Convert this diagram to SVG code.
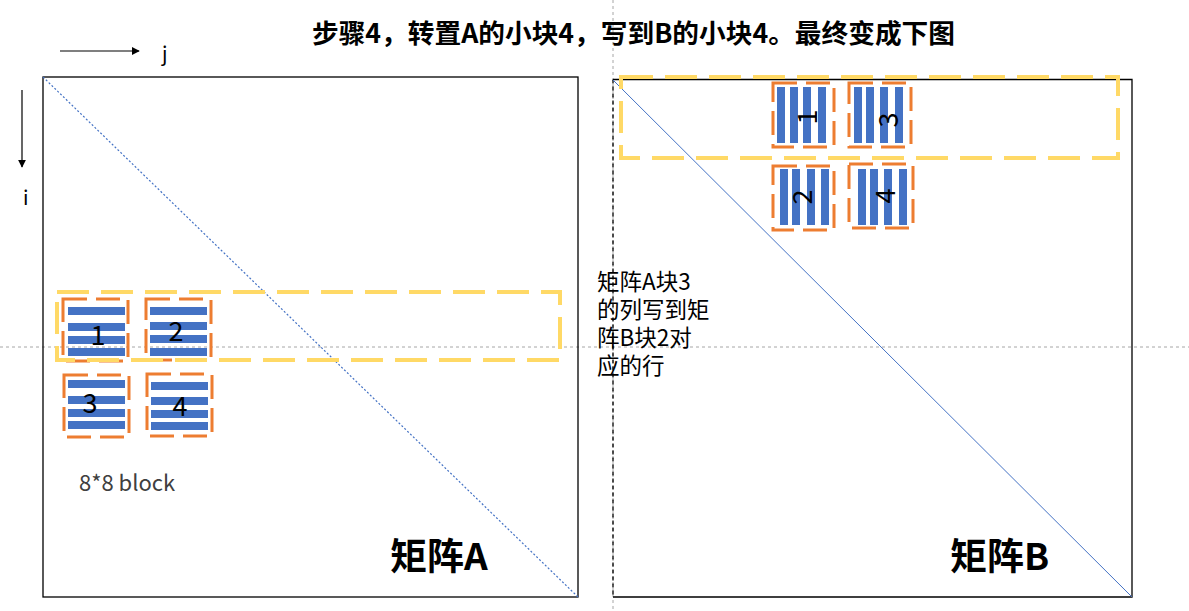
<svg xmlns="http://www.w3.org/2000/svg" width="1189" height="611" viewBox="0 0 1189 611">
<style>
.cjk{font-family:"Noto Sans CJK SC","Liberation Sans",sans-serif;fill:#000}
.frame{fill:none;stroke:#000;stroke-width:1.3}
.guide{fill:none;stroke:#a6a6a6;stroke-width:1;stroke-dasharray:3 3}
.blk{fill:none;stroke:#ED7D31;stroke-width:3;stroke-dasharray:24 9}
.row{fill:none;stroke:#FFD966;stroke-width:4;stroke-dasharray:32 12}
.bar{fill:#4472C4}
.dig{font-family:"Noto Sans CJK SC","Liberation Sans",sans-serif;font-size:27px;fill:#000}
</style>
<defs>
<marker id="ah" viewBox="0 0 10 10" refX="9" refY="5" markerWidth="8" markerHeight="8" markerUnits="userSpaceOnUse" orient="auto">
<path d="M0,0 L10,5 L0,10 z" fill="#000"/>
</marker>
</defs>
<rect width="1189" height="611" fill="#fff"/>

<g id="guides">
<line class="guide" x1="0" y1="347" x2="1189" y2="347"/>
<line class="guide" x1="613" y1="0" x2="613" y2="611"/>
</g>

<text id="title" class="cjk" x="312" y="43" font-size="26.7" font-weight="bold">步骤4，转置A的小块4，写到B的小块4。最终变成下图</text>

<g id="axes">
<line x1="60" y1="51" x2="139" y2="51" stroke="#000" stroke-width="1.2" marker-end="url(#ah)"/>
<text class="cjk" x="162" y="61" font-size="20">j</text>
<line x1="22" y1="90" x2="22" y2="167" stroke="#000" stroke-width="1.2" marker-end="url(#ah)"/>
<text class="cjk" x="23" y="205" font-size="20">i</text>
</g>

<g id="matrixA">
<rect class="frame" x="43" y="77" width="535" height="520"/>
<line x1="43" y1="77" x2="578" y2="597" stroke="#4472C4" stroke-width="1.2" stroke-dasharray="2 2"/>
<text class="cjk" x="390" y="570" font-size="37" font-weight="bold">矩阵A</text>
</g>

<g id="matrixB">
<path class="frame" d="M613,79.5 H1132 V597 H613"/>
<line x1="613" y1="79.5" x2="613" y2="597" stroke="#000" stroke-width="1.3" stroke-dasharray="4 3"/>
<line x1="613" y1="80" x2="1132" y2="597" stroke="#4472C4" stroke-width="1"/>
<text class="cjk" x="950" y="570" font-size="37" font-weight="bold">矩阵B</text>
</g>

<g id="A-block1">
<rect class="bar" x="68" y="307" width="57" height="8"/>
<rect class="bar" x="68" y="323" width="57" height="8"/>
<rect class="bar" x="68" y="336" width="57" height="8"/>
<rect class="bar" x="68" y="348" width="57" height="8"/>
<rect class="blk" x="63" y="299" width="65" height="62"/>
<text class="dig" x="98" y="345" text-anchor="middle">1</text>
</g>
<g id="A-block2">
<rect class="bar" x="150" y="307" width="57" height="8"/>
<rect class="bar" x="150" y="322" width="57" height="8"/>
<rect class="bar" x="150" y="335" width="57" height="8"/>
<rect class="bar" x="150" y="348" width="57" height="8"/>
<rect class="blk" x="146" y="299" width="65" height="61"/>
<text class="dig" x="176" y="341" text-anchor="middle">2</text>
</g>
<g id="A-block3">
<rect class="bar" x="68" y="380" width="57" height="8"/>
<rect class="bar" x="68" y="396" width="57" height="8"/>
<rect class="bar" x="68" y="409" width="57" height="8"/>
<rect class="bar" x="68" y="421" width="57" height="8"/>
<rect class="blk" x="64" y="375" width="65" height="62"/>
<text class="dig" x="90" y="413" text-anchor="middle">3</text>
</g>
<g id="A-block4">
<rect class="bar" x="151" y="382" width="57" height="8"/>
<rect class="bar" x="151" y="397" width="57" height="8"/>
<rect class="bar" x="151" y="410" width="57" height="8"/>
<rect class="bar" x="151" y="422" width="57" height="8"/>
<rect class="blk" x="147" y="374" width="65" height="62"/>
<text class="dig" x="180" y="416" text-anchor="middle">4</text>
</g>
<g id="A-row">
<rect class="row" x="57" y="292" width="503" height="68"/>
</g>

<g id="B-block1">
<rect class="bar" x="777" y="87" width="8" height="56"/>
<rect class="bar" x="790" y="87" width="8" height="56"/>
<rect class="bar" x="803" y="87" width="8" height="56"/>
<rect class="bar" x="818" y="87" width="8" height="56"/>
<rect class="blk" x="773" y="83" width="61" height="64"/>
<text class="dig" transform="rotate(-90 805 117)" x="805" y="117" text-anchor="middle" dominant-baseline="central">1</text>
</g>
<g id="B-block3">
<rect class="bar" x="854" y="87" width="8" height="56"/>
<rect class="bar" x="866" y="87" width="8" height="56"/>
<rect class="bar" x="880" y="87" width="8" height="56"/>
<rect class="bar" x="895" y="87" width="8" height="56"/>
<rect class="blk" x="849" y="83" width="62" height="64"/>
<text class="dig" transform="rotate(-90 886 120)" x="886" y="120" text-anchor="middle" dominant-baseline="central">3</text>
</g>
<g id="B-block2">
<rect class="bar" x="780" y="169" width="8" height="56"/>
<rect class="bar" x="792" y="169" width="8" height="56"/>
<rect class="bar" x="807" y="169" width="8" height="56"/>
<rect class="bar" x="821" y="169" width="8" height="56"/>
<rect class="blk" x="773" y="166" width="61" height="64"/>
<text class="dig" transform="rotate(-90 800 197)" x="800" y="197" text-anchor="middle" dominant-baseline="central">2</text>
</g>
<g id="B-block4">
<rect class="bar" x="858" y="169" width="8" height="56"/>
<rect class="bar" x="870" y="169" width="8" height="56"/>
<rect class="bar" x="884" y="169" width="8" height="56"/>
<rect class="bar" x="899" y="169" width="8" height="56"/>
<rect class="blk" x="849" y="164" width="64" height="64"/>
<text class="dig" transform="rotate(-90 883 196)" x="883" y="196" text-anchor="middle" dominant-baseline="central">4</text>
</g>
<g id="B-row">
<rect class="row" x="621" y="77" width="497" height="81"/>
</g>

<g id="note">
<text class="cjk" x="597" y="290" font-size="22.5">矩阵A块3</text>
<text class="cjk" x="597" y="318" font-size="22.5">的列写到矩</text>
<text class="cjk" x="597" y="346" font-size="22.5">阵B块2对</text>
<text class="cjk" x="597" y="374" font-size="22.5">应的行</text>
</g>

<text id="blocklabel" class="cjk" x="79" y="491" font-size="22" style="fill:#404040">8*8 block</text>
</svg>
